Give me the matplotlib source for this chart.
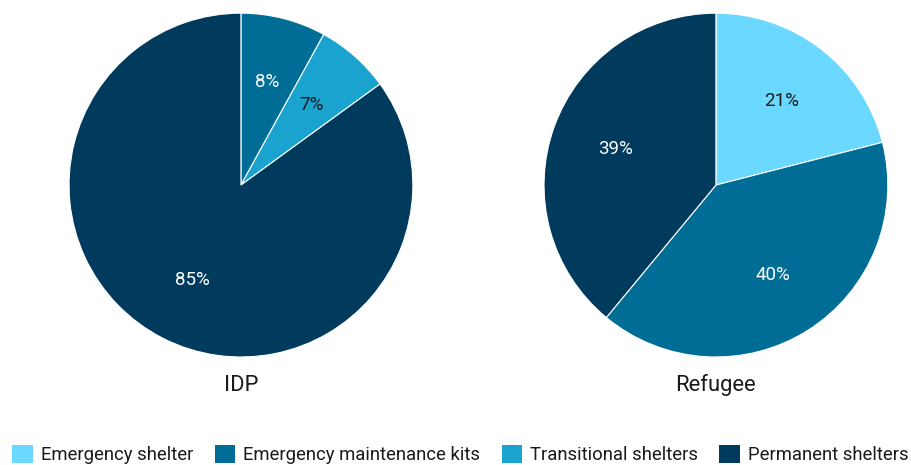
import matplotlib.pyplot as plt
from matplotlib.patches import Patch

plt.rcParams['font.family'] = ['Roboto', 'DejaVu Sans']

categories = ['Emergency shelter', 'Emergency maintenance kits',
              'Transitional shelters', 'Permanent shelters']
colors = ['#6bd8ff', '#006d96', '#1ba3cf', '#003b5e']
text_colors = ['#1a1a1a', 'white', '#1a1a1a', 'white']

groups = ['IDP', 'Refugee']
idp_values = [0, 8, 7, 85]
refugee_values = [21, 40, 0, 39]


def draw_pie(ax, values, title):
    keep = [i for i, v in enumerate(values) if v > 0]
    vals = [values[i] for i in keep]
    wedges, texts, autotexts = ax.pie(
        vals, colors=[colors[i] for i in keep], startangle=90,
        counterclock=False, autopct='%1.0f%%', pctdistance=0.62,
        wedgeprops=dict(edgecolor='white', linewidth=0.8),
        textprops=dict(fontsize=13.5))
    for t, i in zip(autotexts, keep):
        t.set_color(text_colors[i])
    ax.set_xlim(-1, 1)
    ax.set_ylim(-1, 1)
    ax.set_aspect('equal')
    ax.text(0, -1.165, title, ha='center', va='center', fontsize=15.8,
            color='#1a1a1a')


fig = plt.figure(figsize=(9.12, 4.65), dpi=100)
ax1 = fig.add_axes([0.0757, 0.232, 0.377, 0.740])
ax2 = fig.add_axes([0.5965, 0.232, 0.377, 0.740])
draw_pie(ax1, idp_values, groups[0])
draw_pie(ax2, refugee_values, groups[1])

handles = [Patch(facecolor=c, edgecolor='none') for c in colors]
fig.legend(handles, categories, loc='center', bbox_to_anchor=(0.505, 0.022),
           ncol=4, frameon=False, fontsize=13.3, handlelength=1.12,
           handleheight=1.12, columnspacing=1.15, handletextpad=0.43,
           labelcolor='#1a1a1a')

fig.savefig('out.png', dpi=100)
